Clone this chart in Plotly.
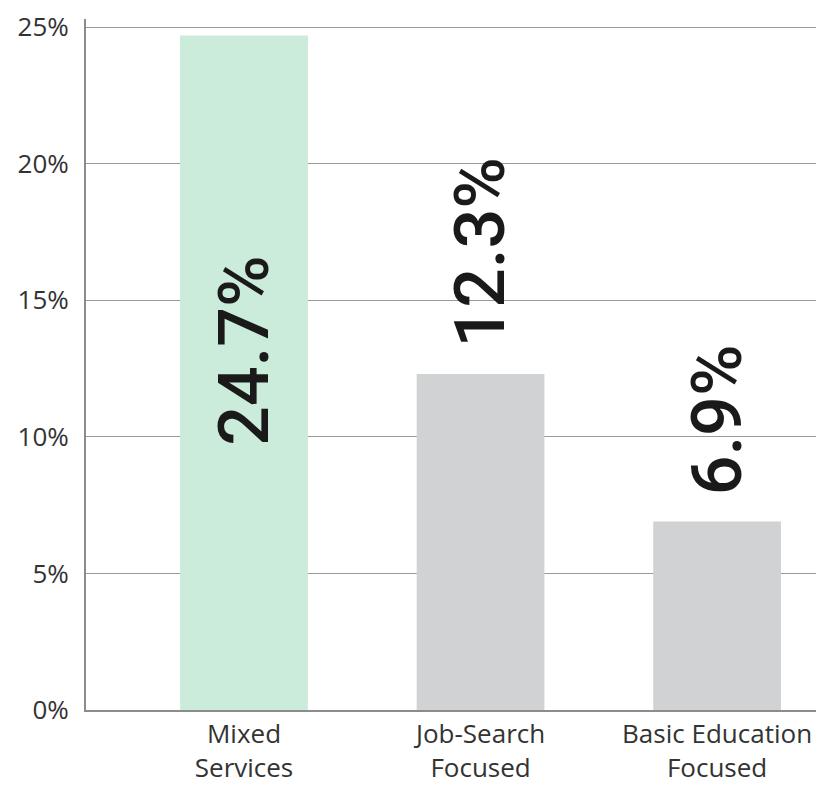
import plotly.graph_objects as go

categories = ["Mixed<br>Services", "Job-Search<br>Focused", "Basic Education<br>Focused"]
values = [24.7, 12.3, 6.9]
value_labels = ["24.7%", "12.3%", "6.9%"]
bar_colors = ["#cbebdb", "#d1d2d4", "#d1d2d4"]
y_ticks = [0, 5, 10, 15, 20, 25]
y_tick_labels = ["0%", "5%", "10%", "15%", "20%", "25%"]

LABEL_FONT = "Roboto, Liberation Sans, Arial, sans-serif"
TICK_FONT = "Open Sans, Lato, Noto Sans, sans-serif"

fig = go.Figure()
fig.add_trace(
    go.Bar(
        x=list(range(len(categories))),
        y=values,
        marker=dict(color=bar_colors, line_width=0),
        width=0.54,
        hoverinfo="skip",
    )
)

# value labels: the tall bar holds its label inside, the others sit above
for i, (v, lab) in enumerate(zip(values, value_labels)):
    inside = v > 20
    fig.add_annotation(
        x=i,
        y=v / 2 if inside else v,
        text=lab,
        textangle=-90,
        showarrow=False,
        yanchor="middle" if inside else "bottom",
        yshift=22 if inside else 24,
        font=dict(family=LABEL_FONT, size=70, color="#1a1a1a", weight=500),
    )

# page body has an 8px margin, so the figure is 8px smaller and margins offset
fig.update_layout(
    width=816,
    height=777,
    paper_bgcolor="white",
    plot_bgcolor="white",
    showlegend=False,
    margin=dict(l=78, r=0, t=8, b=72),
    font=dict(family=TICK_FONT, color="#333333"),
    xaxis=dict(
        range=[-0.668, 2.452],
        tickmode="array",
        tickvals=list(range(len(categories))),
        ticktext=categories,
        tickfont=dict(size=26, color="#333333"),
        showgrid=False,
        showline=True,
        linecolor="#8c8c8c",
        linewidth=2,
        ticks="",
        ticklabeloverflow="allow",
        zeroline=False,
    ),
    yaxis=dict(
        range=[0, 25.3],
        tickmode="array",
        tickvals=y_ticks,
        ticktext=y_tick_labels,
        tickfont=dict(size=26, color="#333333"),
        showgrid=True,
        gridcolor="#999999",
        gridwidth=1,
        showline=True,
        linecolor="#8c8c8c",
        linewidth=2,
        ticks="",
        ticklabelstandoff=10,
        ticklabeloverflow="allow",
        zeroline=False,
    ),
)

fig.write_html("out.html")
